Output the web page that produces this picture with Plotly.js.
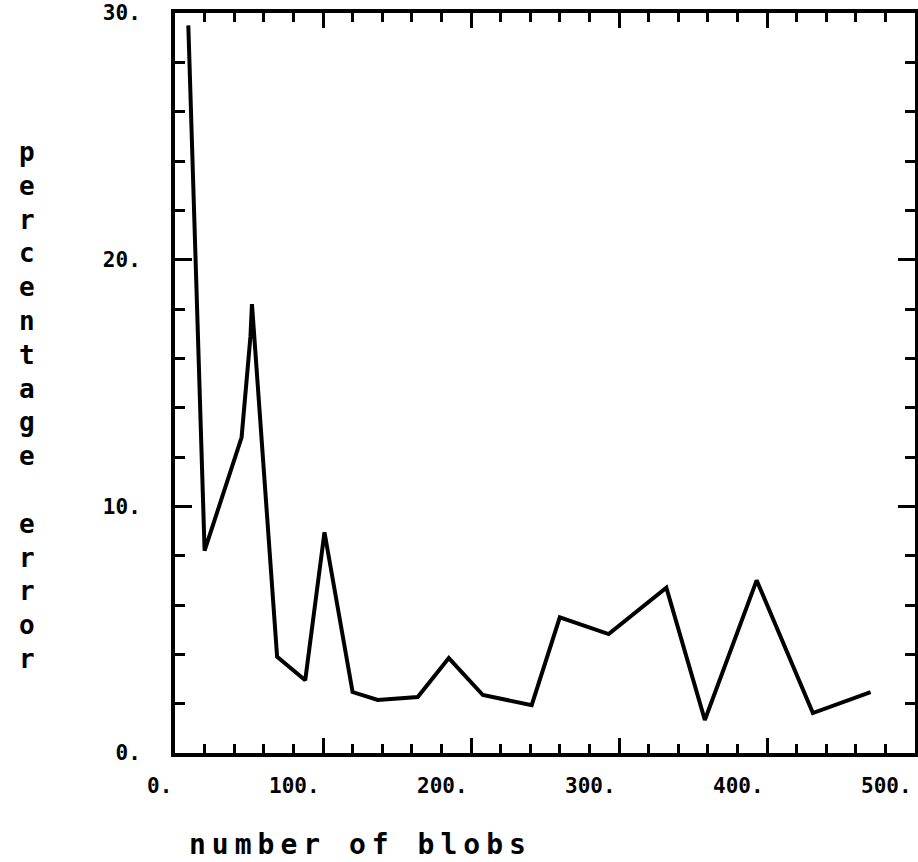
<!DOCTYPE html>
<html><head><meta charset="utf-8">
<script src="https://cdn.plot.ly/plotly-3.0.1.min.js"></script>
<style>
html,body{margin:0;padding:0;background:#fff}
#chart{width:918px;height:862px}
.annotation[data-index="1"] text{letter-spacing:6px}
</style></head><body><div id="chart"></div>
<script>
const blobs    = [9, 20, 45, 51, 52, 69, 88, 101, 120, 137, 164, 185, 208, 241, 260, 293, 332, 358, 393, 431, 470];
const pctError = [29.5, 8.2, 12.8, 16.9, 18.2, 3.9, 2.95, 8.95, 2.47, 2.15, 2.27, 3.85, 2.35, 1.94, 5.5, 4.82, 6.7, 1.34, 7.0, 1.62, 2.47];
const xTickVals = [0, 100, 200, 300, 400, 500];
const xTickText = ['0.', '100.', '200.', '300.', '400.', '500.'];
const yTickVals = [0, 10, 20, 30];
const yTickText = ['0.', '10.', '20.', '30.'];
const xTitle = 'number of blobs';
const yTitle = 'percentage error';

const tickFont = {family: 'DejaVu Sans Mono', size: 21, color: '#000', weight: 'bold'};
const titleFont = {family: 'DejaVu Sans Mono', size: 26, color: '#000', weight: 'bold'};
const xTitleFont = {family: 'DejaVu Sans Mono', size: 28, color: '#000', weight: 'bold'};

const trace = {
  x: blobs, y: pctError, type: 'scatter', mode: 'lines',
  line: {color: '#000', width: 4}, hoverinfo: 'skip', showlegend: false
};

const annotations = [
  {
    xref: 'paper', yref: 'paper', x: -0.2, y: 0.47, xanchor: 'center', yanchor: 'middle',
    showarrow: false, align: 'center', font: titleFont,
    text: yTitle.split('').map(c => c === ' ' ? '\u00a0' : c).join('<br>')
  },
  {
    xref: 'paper', yref: 'paper', x: (360 - 175) / 740, y: -0.124, xanchor: 'center', yanchor: 'middle',
    showarrow: false, font: xTitleFont, text: xTitle
  }
];
xTickVals.forEach((v, i) => {
  annotations.push({
    xref: 'x', yref: 'paper', x: v, y: -0.026, xanchor: 'right', yanchor: 'top',
    xshift: -1, showarrow: false, font: tickFont, text: xTickText[i]
  });
});

const layout = {
  width: 918, height: 862,
  margin: {l: 175, r: 3, t: 13, b: 109},
  paper_bgcolor: '#fff', plot_bgcolor: '#fff',
  xaxis: {
    range: [0, 500], showgrid: false, zeroline: false,
    showline: true, linecolor: '#000', linewidth: 4, mirror: 'allticks',
    ticks: 'inside', ticklen: 15, tickwidth: 3, tickcolor: '#000',
    tickmode: 'array', tickvals: xTickVals, showticklabels: false,
    minor: {dtick: 20, tick0: 0, ticks: 'inside', ticklen: 9, tickwidth: 3, tickcolor: '#000', showgrid: false}
  },
  yaxis: {
    range: [0, 30], showgrid: false, zeroline: false,
    showline: true, linecolor: '#000', linewidth: 4, mirror: 'allticks',
    ticks: 'inside', ticklen: 17, tickwidth: 3, tickcolor: '#000',
    tickmode: 'array', tickvals: yTickVals, ticktext: yTickText,
    ticklabelstandoff: 26,
    tickfont: tickFont,
    minor: {dtick: 2, tick0: 0, ticks: 'inside', ticklen: 10, tickwidth: 3, tickcolor: '#000', showgrid: false}
  },
  annotations: annotations
};

Plotly.newPlot('chart', [trace], layout, {displayModeBar: false, staticPlot: true});
</script></body></html>
